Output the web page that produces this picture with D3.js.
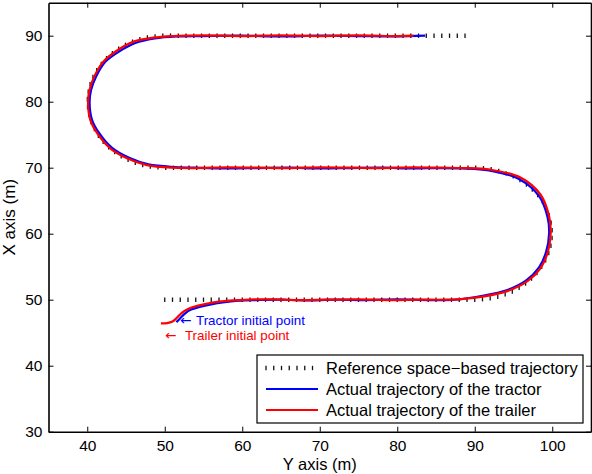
<!DOCTYPE html>
<html>
<head>
<meta charset="utf-8">
<script src="https://cdn.jsdelivr.net/npm/d3@7"></script>
<style>
  body { margin: 0; background: #fff; }
  svg { display: block; font-family: "Liberation Sans", Arial, Helvetica, sans-serif; }
</style>
</head>
<body>
<div id="chart"></div>
<script>
'use strict';

// reference space-based trajectory, [Y, X] in metres
const referencePath = [
  [50, 50], [70, 50], [88, 50], [90, 50], [92.59, 50.34], [95, 51.34], [97.07, 52.93], [98.66, 55],
  [99.66, 57.41], [100, 60], [99.66, 62.59], [98.66, 65], [97.07, 67.07], [95, 68.66],
  [92.59, 69.66], [90, 70], [88, 70], [70, 70], [52, 70], [50, 70], [47.41, 70.34], [45, 71.34],
  [42.93, 72.93], [41.34, 75], [40.34, 77.41], [40, 80], [40.34, 82.59], [41.34, 85],
  [42.93, 87.07], [45, 88.66], [47.41, 89.66], [50, 90], [52, 90], [70, 90], [89.6, 90]
];

// actual trajectory of the tractor
const tractorPath = [
  [51.5, 46.6], [52.0, 47.2], [52.6, 47.9], [53.4, 48.5], [54.5, 48.9], [56.0, 49.3], [57.5, 49.6],
  [59.5, 49.85], [62.0, 49.95], [65, 50.0], [68, 49.9], [72, 50.0], [76, 49.95], [80, 50.05],
  [84, 49.95], [87.5, 50.0], [91.0, 50.6], [94.0, 51.4], [96.6, 52.9], [98.3, 54.9], [99.2, 57.2],
  [99.6, 60.1], [99.4, 62.5], [98.3, 65.7], [95.7, 68.3], [91.8, 69.6], [88.4, 69.9], [85.4, 69.95],
  [82, 69.9], [78, 70.0], [74, 69.95], [70, 69.9], [66, 70.0], [62, 69.95], [58, 69.9], [54, 70.0],
  [51.4, 70.1], [47.9, 70.5], [45.4, 71.5], [43.2, 73.0], [41.5, 75.3], [40.6, 77.3], [40.3, 80.0],
  [40.5, 81.8], [41.1, 83.7], [42.3, 86.0], [44.1, 87.6], [46.2, 88.9], [48.7, 89.6], [51.5, 89.9],
  [55, 89.95], [60, 90.0], [65, 89.9], [70, 90.0], [75, 89.95], [80, 89.9], [83.6, 90.0]
];

// actual trajectory of the trailer
const trailerPath = [
  [49.5, 46.4], [50.3, 46.45], [51.0, 46.7], [51.6, 47.3], [52.2, 48.0], [53.0, 48.6], [54.0, 49.0],
  [55.5, 49.4], [57.0, 49.7], [59.0, 49.9], [61.5, 50.05], [64, 50.05], [67, 49.95], [71, 50.0],
  [75, 50.05], [79, 49.95], [83, 50.0], [86, 50.0], [88.2, 50.1], [91.2, 50.5], [94.2, 51.3],
  [96.8, 52.8], [98.5, 54.8], [99.4, 57.1], [99.8, 60.1], [99.6, 62.6], [98.5, 65.9], [95.9, 68.5],
  [92.0, 69.7], [88.5, 69.95], [85.6, 70.0], [82, 70.05], [78, 69.95], [74, 70.0], [70, 70.05],
  [66, 69.95], [62, 70.0], [58, 70.05], [54, 69.95], [51.2, 70.0], [47.7, 70.4], [45.2, 71.4],
  [43.0, 72.9], [41.3, 75.2], [40.4, 77.2], [40.1, 80.0], [40.3, 81.8], [40.9, 83.8], [42.1, 86.1],
  [43.9, 87.8], [46.0, 89.1], [48.5, 89.7], [51, 89.95], [55, 90.05], [60, 89.95], [65, 90.05],
  [70, 89.95], [75, 90.05], [80, 89.95], [82.1, 90.0]
];

const xTicks = [40, 50, 60, 70, 80, 90, 100];
const yTicks = [30, 40, 50, 60, 70, 80, 90];
const legendLabels = [
  'Reference space\u2212based trajectory',
  'Actual trajectory of the tractor',
  'Actual trajectory of the trailer'
];
// annotation: label, colour, arrow start [Y, X], text start Y
const notes = [
  { label: 'Tractor initial point', colour: '#0000ff', at: [51.97, 46.82], textY: 54.03 },
  { label: 'Trailer initial point', colour: '#ff0000', at: [50.03, 44.65], textY: 52.6 }
];

const W = 592;
const H = 474;
const margin = { top: 2.7, right: 1, bottom: 42.3, left: 48.5 };
const width = W - margin.left - margin.right;
const height = H - margin.top - margin.bottom;

const svg = d3.select('#chart').append('svg').attr('width', W).attr('height', H);
const g = svg.append('g').attr('transform', `translate(${margin.left},${margin.top})`);

const x = d3.scaleLinear().domain([35, 105]).range([0, width]);
const y = d3.scaleLinear().domain([30, 95]).range([height, 0]);

const line = d3.line()
  .x(d => x(d[0]))
  .y(d => y(d[1]))
  .curve(d3.curveCatmullRom.alpha(0.5));

// axes, MATLAB-style inward ticks on all four sides
const styleAxis = (sel, showText) => {
  sel.select('.domain').attr('stroke', '#000').attr('stroke-width', 1.6);
  sel.selectAll('.tick line').attr('stroke', '#000').attr('stroke-width', 1);
  sel.selectAll('.tick text')
    .attr('fill', '#000')
    .style('font-size', '15.5px')
    .style('display', showText ? null : 'none');
};

g.append('g')
  .attr('transform', `translate(0,${height})`)
  .call(d3.axisBottom(x).tickValues(xTicks).tickSizeInner(-5).tickSizeOuter(0).tickPadding(8))
  .call(sel => styleAxis(sel, true));
g.append('g')
  .call(d3.axisTop(x).tickValues(xTicks).tickSizeInner(-5).tickSizeOuter(0))
  .call(sel => styleAxis(sel, false));
g.append('g')
  .call(d3.axisLeft(y).tickValues(yTicks).tickSizeInner(-5).tickSizeOuter(0).tickPadding(6))
  .call(sel => styleAxis(sel, true));
g.append('g')
  .attr('transform', `translate(${width},0)`)
  .call(d3.axisRight(y).tickValues(yTicks).tickSizeInner(-5).tickSizeOuter(0))
  .call(sel => styleAxis(sel, false));

// axis titles
svg.append('text')
  .attr('x', margin.left + width / 2)
  .attr('y', 470)
  .attr('text-anchor', 'middle')
  .style('font-size', '16.5px')
  .text('Y axis (m)');
svg.append('text')
  .attr('transform', `translate(15,${margin.top + y(62.5)}) rotate(-90)`)
  .attr('text-anchor', 'middle')
  .style('font-size', '17px')
  .text('X axis (m)');

// reference: short vertical ticks spaced 1 m along the path
const refGuide = g.append('path')
  .attr('d', line(referencePath))
  .attr('fill', 'none')
  .attr('stroke', 'none');
const refNode = refGuide.node();
const refLength = refNode.getTotalLength();
const step = x(36) - x(35);
const refMarks = d3.range(0, refLength, step).map(l => refNode.getPointAtLength(l));
g.append('g')
  .selectAll('line')
  .data(refMarks)
  .join('line')
  .attr('x1', d => d.x)
  .attr('x2', d => d.x)
  .attr('y1', d => d.y - 2.2)
  .attr('y2', d => d.y + 2.2)
  .attr('stroke', '#111')
  .attr('stroke-width', 1.3);

g.append('path')
  .attr('d', line(tractorPath))
  .attr('fill', 'none')
  .attr('stroke', '#0000ff')
  .attr('stroke-width', 2.2)
  .attr('stroke-linejoin', 'round');

g.append('path')
  .attr('d', line(trailerPath))
  .attr('fill', 'none')
  .attr('stroke', '#ff0000')
  .attr('stroke-width', 2.2)
  .attr('stroke-linejoin', 'round');

// initial point annotations
const note = g.append('g').selectAll('g').data(notes).join('g');
note.append('text')
  .attr('x', d => x(d.at[0]))
  .attr('y', d => y(d.at[1]))
  .attr('dy', '0.35em')
  .attr('fill', d => d.colour)
  .style('font-family', '"DejaVu Sans", sans-serif')
  .style('font-size', '13.5px')
  .text('\u2190');
note.append('text')
  .attr('x', d => x(d.textY))
  .attr('y', d => y(d.at[1]))
  .attr('dy', '0.35em')
  .attr('fill', d => d.colour)
  .style('font-size', '13.4px')
  .text(d => d.label);

// legend
const legend = svg.append('g').attr('transform', 'translate(257,355)');
legend.append('rect')
  .attr('width', 326)
  .attr('height', 68)
  .attr('fill', '#fff')
  .attr('stroke', '#000')
  .attr('stroke-width', 1.2);

const rowY = [13, 34, 55];
const sampleX = d3.range(9, 62, step);
legend.append('g')
  .selectAll('line')
  .data(sampleX)
  .join('line')
  .attr('x1', d => d)
  .attr('x2', d => d)
  .attr('y1', rowY[0] - 2.2)
  .attr('y2', rowY[0] + 2.2)
  .attr('stroke', '#111')
  .attr('stroke-width', 1.3);
legend.append('line')
  .attr('x1', 9).attr('x2', 61)
  .attr('y1', rowY[1]).attr('y2', rowY[1])
  .attr('stroke', '#0000ff').attr('stroke-width', 2);
legend.append('line')
  .attr('x1', 9).attr('x2', 61)
  .attr('y1', rowY[2]).attr('y2', rowY[2])
  .attr('stroke', '#ff0000').attr('stroke-width', 2);
legend.selectAll('text.label')
  .data(legendLabels)
  .join('text')
  .attr('class', 'label')
  .attr('x', 69)
  .attr('y', (d, i) => rowY[i])
  .attr('dy', '0.35em')
  .style('font-size', '16.5px')
  .text(d => d);
</script>
</body>
</html>
